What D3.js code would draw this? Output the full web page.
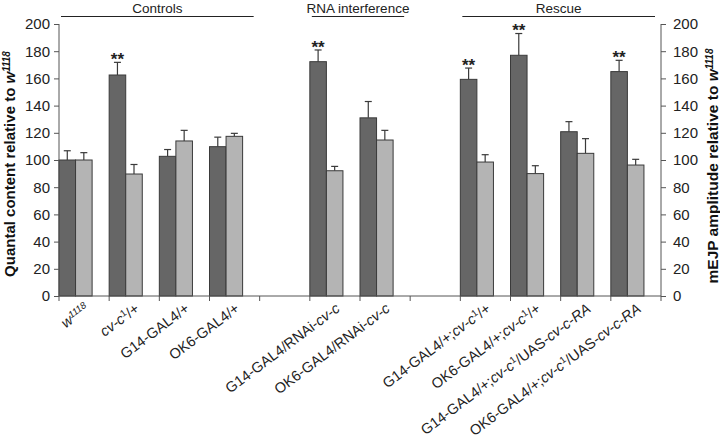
<!DOCTYPE html>
<html><head><meta charset="utf-8">
<script src="https://cdn.jsdelivr.net/npm/d3@7"></script>
<style>
html,body{margin:0;padding:0;background:#fff;}
svg{display:block;font-family:"Liberation Sans",Arial,sans-serif;}
</style></head>
<body><svg id="chart" width="720" height="445"></svg>
<script>
// ---- data ----
const categories = ["<i>w</i>^1118", "<i>cv-c</i>^1/+", "G14-GAL4/+", "OK6-GAL4/+", "",
  "G14-GAL4/RNAi-<i>cv-c</i>", "OK6-GAL4/RNAi-<i>cv-c</i>", "",
  "G14-GAL4/+;<i>cv-c</i>^1/+", "OK6-GAL4/+;<i>cv-c</i>^1/+",
  "G14-GAL4/+;<i>cv-c</i>^1/UAS-<i>cv-c-RA</i>", "OK6-GAL4/+;<i>cv-c</i>^1/UAS-<i>cv-c-RA</i>"];
const quantal    = [100, 162.5, 102.7, 109.8, null, 172.3, 131, null, 159.3, 177, 120.8, 165];
const quantalErr = [6.8, 9.3, 5, 7, null, 8.6, 12, null, 8.3, 16, 7.4, 8.3];
const mejp       = [100, 89.7, 114, 117.4, null, 92.1, 114.7, null, 98.5, 90, 104.9, 96.3];
const mejpErr    = [5.4, 7, 7.8, 2.2, null, 3.2, 7.1, null, 5.4, 5.8, 10.8, 4.2];
const significant = [false, true, false, false, false, true, false, false, true, true, false, true];
const yTicks = [0, 20, 40, 60, 80, 100, 120, 140, 160, 180, 200];
const groups = [
  {name: "Controls", from: 0, to: 3},
  {name: "RNA interference", from: 5, to: 6},
  {name: "Rescue", from: 8, to: 11}
];
const leftTitle = "Quantal  content relative to <i>w</i>^1118";
const rightTitle = "mEJP amplitude relative to <i>w</i>^1118";

// ---- layout ----
const svg = d3.select("#chart");
const plot = {left: 59, right: 661, top: 24, bottom: 296};
const x = d3.scaleBand().domain(d3.range(categories.length)).range([plot.left, plot.right]).paddingInner(0).paddingOuter(0);
const sub = d3.scaleBand().domain(["q", "m"]).range([0, x.bandwidth() * 0.66]).padding(0);
const y = d3.scaleLinear().domain([0, 200]).range([plot.bottom, plot.top]);
const darkFill = "#666666", lightFill = "#b4b4b4", strokeCol = "#3a3a3a";

// rich text helper
function rich(sel, str, supSize) {
  const re = /(<i>.*?<\/i>|\^\d+)/g;
  const parts = str.split(re).filter(s => s !== "");
  let lastSup = false;
  parts.forEach(p => {
    if (p.startsWith("<i>")) {
      const t = sel.append("tspan").attr("font-style", "italic").text(p.slice(3, -4));
      if (lastSup) { t.attr("dy", "0.35em"); lastSup = false; }
    } else if (p.startsWith("^")) {
      sel.append("tspan").attr("font-size", supSize).attr("font-style", sel.attr("data-supital") ? "italic" : null)
        .attr("dy", "-0.5em").text(p.slice(1));
      lastSup = true;
    } else {
      const t = sel.append("tspan").text(p);
      if (lastSup) { t.attr("dy", "0.35em"); lastSup = false; }
    }
  });
}

// bars
const data = categories.map((c, i) => ({i, q: quantal[i], qe: quantalErr[i], m: mejp[i], me: mejpErr[i], sig: significant[i]}))
  .filter(d => d.q != null);

const g = svg.append("g");
function errBar(xc, v, e) {
  g.append("line").attr("x1", xc).attr("x2", xc).attr("y1", y(v)).attr("y2", y(v + e))
    .attr("stroke", strokeCol).attr("stroke-width", 1.2);
  g.append("line").attr("x1", xc - 3.5).attr("x2", xc + 3.5).attr("y1", y(v + e)).attr("y2", y(v + e))
    .attr("stroke", strokeCol).attr("stroke-width", 1.2);
}
data.forEach(d => {
  const x0 = x(d.i);
  errBar(x0 + sub("q") + sub.bandwidth() / 2, d.q, d.qe);
  errBar(x0 + sub("m") + sub.bandwidth() / 2, d.m, d.me);
  g.append("rect").attr("x", x0 + sub("q")).attr("y", y(d.q)).attr("width", sub.bandwidth()).attr("height", y(0) - y(d.q))
    .attr("fill", darkFill).attr("stroke", strokeCol).attr("stroke-width", 1);
  g.append("rect").attr("x", x0 + sub("m")).attr("y", y(d.m)).attr("width", sub.bandwidth()).attr("height", y(0) - y(d.m))
    .attr("fill", lightFill).attr("stroke", strokeCol).attr("stroke-width", 1);
  if (d.sig) {
    g.append("text").attr("x", x0 + sub("q") + sub.bandwidth() / 2).attr("y", y(d.q + d.qe) - 0.5)
      .attr("text-anchor", "middle").attr("font-size", 17).attr("font-weight", "bold").attr("fill", "#222")
      .attr("dy", "0.2em").text("**");
  }
});

// axes
const yl = svg.append("g").attr("transform", `translate(${plot.left},0)`)
  .call(d3.axisLeft(y).tickValues(yTicks).tickSize(5).tickPadding(4));
const yr = svg.append("g").attr("transform", `translate(${plot.right},0)`)
  .call(d3.axisRight(y).tickValues(yTicks).tickSize(5).tickPadding(7));
[yl, yr].forEach(a => {
  a.select(".domain").attr("stroke", "#555").attr("d", `M0,${plot.top}V${plot.bottom}`);
  a.selectAll(".tick line").attr("stroke", "#555");
  a.selectAll(".tick text").attr("font-size", 15).attr("fill", "#222").attr("font-family", "Liberation Sans, Arial, sans-serif");
});

// x axis line with ticks at slot boundaries
const xa = svg.append("g");
xa.append("line").attr("x1", plot.left).attr("x2", plot.right).attr("y1", plot.bottom).attr("y2", plot.bottom).attr("stroke", "#555");
d3.range(categories.length + 1).forEach(k => {
  const xx = k < categories.length ? x(k) : plot.right;
  xa.append("line").attr("x1", xx).attr("x2", xx).attr("y1", plot.bottom).attr("y2", plot.bottom + 5).attr("stroke", "#555");
});

// x labels
categories.forEach((c, i) => {
  if (!c) return;
  const cx = x(i) + x.bandwidth() / 2 + 1;
  const t = svg.append("text").attr("transform", `translate(${cx},${plot.bottom + 8}) rotate(-37)`)
    .attr("text-anchor", "end").attr("font-size", 14.5).attr("fill", "#222").attr("dy", "0.55em")
    .attr("data-supital", c.startsWith("<i>w") ? "1" : null);
  rich(t, c, 9.5);
});

// group labels and lines
groups.forEach(gr => {
  const x1 = x(gr.from) + 2, x2 = x(gr.to) + x.bandwidth() - 6;
  svg.append("line").attr("x1", x1).attr("x2", x2)
    .attr("y1", 16.5).attr("y2", 16.5).attr("stroke", "#222").attr("stroke-width", 1.2);
  svg.append("text").attr("x", (x1 + x2) / 2).attr("y", 12.5)
    .attr("text-anchor", "middle").attr("font-size", 13.5).attr("fill", "#222").text(gr.name);
});

// axis titles
const lt = svg.append("text").attr("transform", `translate(15,164) rotate(-90)`).attr("text-anchor", "middle")
  .attr("font-size", 15).attr("font-weight", "bold").attr("fill", "#111").attr("data-supital", "1");
rich(lt, leftTitle, 10);
const rt = svg.append("text").attr("transform", `translate(718,166) rotate(-90)`).attr("text-anchor", "middle")
  .attr("font-size", 15.5).attr("font-weight", "bold").attr("fill", "#111").attr("data-supital", "1");
rich(rt, rightTitle, 10);
</script></body></html>
